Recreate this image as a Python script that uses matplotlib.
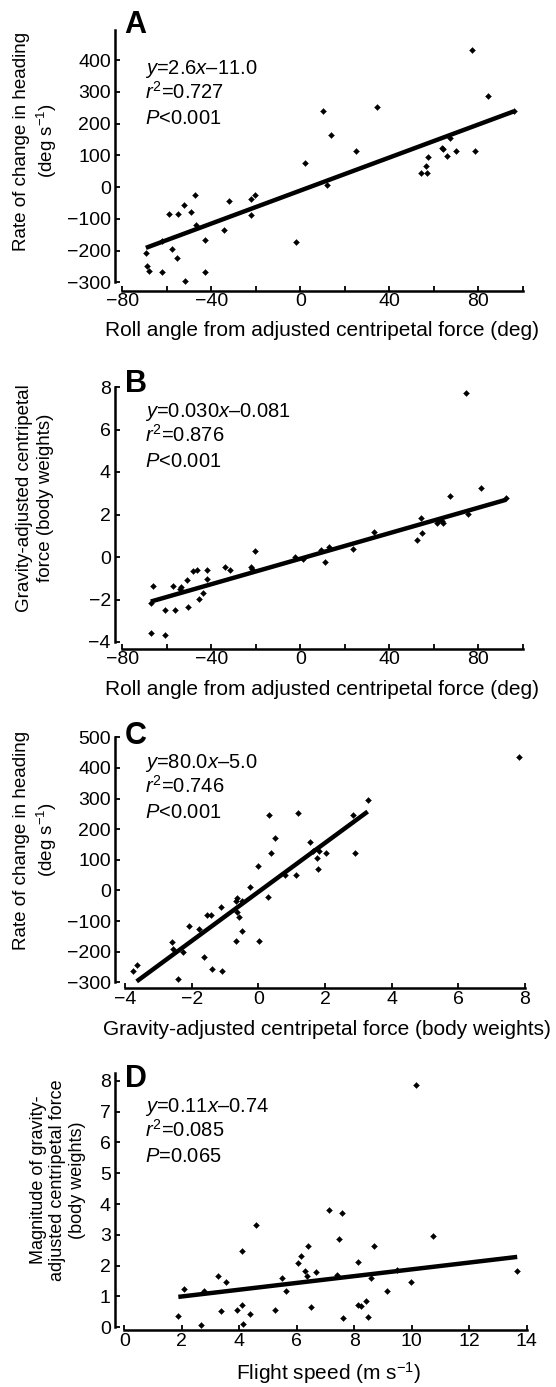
import numpy as np
import matplotlib
matplotlib.use("Agg")
import matplotlib.pyplot as plt

plt.rcParams["font.family"] = ["Liberation Sans", "DejaVu Sans"]
plt.rcParams["mathtext.fontset"] = "custom"
plt.rcParams["mathtext.rm"] = "Liberation Sans"
plt.rcParams["mathtext.it"] = "Liberation Sans:italic"
plt.rcParams["axes.unicode_minus"] = True

# --- data ---
# A: roll angle (deg) vs rate of change in heading (deg/s)
a_roll = [-69.4, -68.8, -68.1, -62.2, -62.2, -58.9, -57.7, -55.5, -55.0, -52.2,
          -51.7, -49.3, -47.5, -46.8, -43.0, -43.0, -34.3, -32.2, -22.3, -22.2,
          -20.4, -1.8, 2.1, 10.3, 12.0, 13.6, 25.0, 34.5, 54.4, 56.5,
          57.1, 57.4, 63.7, 64.2, 65.8, 67.3, 70.0, 77.4, 78.4, 84.6, 96.0]
a_turn = [-207, -248, -263, -170, -268, -85, -195, -222, -85, -57,
          -296, -80, -26, -121, -167, -268, -136, -45, -37, -88,
          -26, -172, 77, 241, 6, 165, 115, 252, 45, 67,
          45, 95, 122, 120, 99, 154, 115, 431, 115, 288, 241]
a_fit = (2.6, -11.0)

# B: roll angle (deg) vs gravity-adjusted centripetal force (body weights)
b_roll = [-67.2, -67.2, -66.1, -60.7, -60.7, -57.4, -56.2, -54.1, -53.5, -51.0,
          -50.5, -48.4, -46.5, -45.7, -43.6, -42.0, -42.0, -33.7, -31.5, -22.2,
          -21.7, -20.2, -2.2, 1.3, 9.3, 11.2, 13.0, 23.8, 33.0, 52.3,
          54.3, 54.7, 61.5, 62.5, 63.7, 64.3, 67.3, 74.5, 75.3, 81.3, 92.5]
b_force = [-2.15, -3.59, -1.36, -2.49, -3.67, -1.36, -2.49, -1.52, -1.43, -1.08,
           -2.34, -0.64, -0.61, -1.99, -1.71, -0.61, -1.05, -0.45, -0.61, -0.45,
           -0.55, 0.30, 0.02, -0.08, 0.33, -0.22, 0.49, 0.39, 1.19, 0.80,
           1.82, 1.15, 1.62, 1.74, 1.69, 1.58, 2.89, 7.73, 2.02, 3.26, 2.79]
b_fit = (0.030, -0.081)

# C: gravity-adjusted centripetal force vs rate of change in heading
c_force = [-3.77, -3.65, -2.60, -2.57, -2.40, -2.25, -2.07, -1.77, -1.63, -1.53,
           -1.42, -1.40, -1.13, -1.10, -0.67, -0.67, -0.65, -0.63, -0.57, -0.50,
           -0.49, -0.25, -0.01, 0.01, 0.28, 0.31, 0.37, 0.50, 0.80, 1.14,
           1.19, 1.55, 1.65, 1.75, 1.80, 1.81, 2.03, 2.83, 2.91, 3.28, 7.83]
c_turn = [-263, -245, -167, -190, -289, -200, -116, -126, -218, -81,
          -80, -257, -53, -263, -36, -164, -25, -72, -86, -33,
          -131, 11, 81, -166, -22, 246, 121, 170, 49, 49,
          254, 157, 128, 106, 71, 128, 121, 246, 121, 294, 436]
c_fit = (80.0, -5.0)
c_fit_range = [-3.65, 3.28]

# D: flight speed (m/s) vs magnitude of gravity-adjusted centripetal force
d_speed = [1.88, 2.08, 2.78, 3.26, 3.37, 3.55, 3.92, 4.09, 4.11, 4.38,
           4.59, 5.25, 5.49, 5.63, 6.05, 6.15, 6.30, 6.34, 6.38, 6.49,
           6.67, 7.11, 7.41, 7.46, 7.57, 7.61, 8.12, 8.14, 8.24, 8.40,
           8.47, 8.57, 8.70, 9.15, 9.50, 9.99, 10.16, 10.73, 13.67, 4.14, 2.67]
d_force = [0.37, 1.25, 1.18, 1.68, 0.54, 1.47, 0.56, 0.73, 2.48, 0.42,
           3.33, 0.56, 1.61, 1.19, 2.07, 2.30, 1.83, 1.66, 2.64, 0.67,
           1.78, 3.81, 1.70, 2.85, 3.72, 0.31, 0.73, 2.12, 0.69, 0.85,
           0.35, 1.59, 2.64, 1.17, 1.87, 1.47, 7.87, 2.97, 1.84, 0.11, 0.07]
d_fit = (0.11, 0.78)

W, H = 556, 1387
fig = plt.figure(figsize=(W / 100, H / 100), dpi=100)


def px(x, y):
    return x / W, 1 - y / H


def make_axes(x0, x1, ytop, ybot, xoff, yoff):
    ax = fig.add_axes([x0 / W, 1 - ybot / H, (x1 - x0) / W, (ybot - ytop) / H])
    for s in ["top", "right"]:
        ax.spines[s].set_visible(False)
    ax.spines["left"].set_position(("outward", xoff * 0.72))
    ax.spines["bottom"].set_position(("outward", yoff * 0.72))
    for s in ["left", "bottom"]:
        ax.spines[s].set_linewidth(1.8)
    ax.tick_params(direction="in", length=3.5, width=1.3, labelsize=14)
    ax.tick_params(axis="x", pad=2)
    ax.tick_params(axis="y", pad=3)
    ax.patch.set_alpha(0)
    return ax


def draw(ax, x, y, fit, xr=None):
    ax.plot(x, y, "D", ms=3.0, color="black", mew=0.3, clip_on=False)
    if xr is None:
        xr = [min(x), max(x)]
    xr = np.array(xr)
    ax.plot(xr, fit[0] * xr + fit[1], color="black", lw=3.2,
            solid_capstyle="butt", clip_on=False)


def stats(lines, x, y0):
    for i, t in enumerate(lines):
        fig.text(*px(x, y0 + 25 * i), t, fontsize=14.5, va="baseline", ha="left")


def xlabel(ax, text, cx, base):
    ax.set_xlabel(text, fontsize=15, va="baseline")
    ax.xaxis.set_label_coords(*px(cx, base), transform=fig.transFigure)


def ylabel(ax, text, cx, cy, size=13.5, ls=1.25):
    ax.set_ylabel(text, fontsize=size, va="center", ha="center",
                  multialignment="center", linespacing=ls)
    ax.yaxis.set_label_coords(*px(cx, cy), transform=fig.transFigure)


deg_s = r"(deg s$^{\mathrm{-1}}$)"

# Panel A
ax = make_axes(122.3, 522.7, 30, 282.3, 7.3, 8.4)
draw(ax, a_roll, a_turn, a_fit)
ax.set_xlim(-80, 100)
ax.set_ylim(-300, 495)
ax.set_xticks(np.arange(-80, 101, 20))
ax.set_xticklabels(["−80", "", "−40", "", "0", "", "40", "", "80", ""])
ax.set_yticks(np.arange(-300, 401, 100))
xlabel(ax, "Roll angle from adjusted centripetal force (deg)", 322, 336)
ylabel(ax, "Rate of change in heading\n" + deg_s, 36, 141)
fig.text(*px(124, 33), "A", fontsize=22, fontweight="bold", va="baseline")
stats([r"$y$=2.6$x$–11.0", r"$r^{\mathrm{2}}$=0.727", r"$P$<0.001"], 145, 74)

# Panel B
ax = make_axes(122.3, 522.7, 387, 642, 7.3, 6.5)
draw(ax, b_roll, b_force, b_fit)
ax.set_xlim(-80, 100)
ax.set_ylim(-4, 8)
ax.set_xticks(np.arange(-80, 101, 20))
ax.set_xticklabels(["−80", "", "−40", "", "0", "", "40", "", "80", ""])
ax.set_yticks(np.arange(-4, 9, 2))
xlabel(ax, "Roll angle from adjusted centripetal force (deg)", 322, 695)
ylabel(ax, "Gravity-adjusted centripetal\nforce (body weights)", 35, 498)
fig.text(*px(125, 391.7), "B", fontsize=22, fontweight="bold", va="baseline")
stats([r"$y$=0.030$x$–0.081", r"$r^{\mathrm{2}}$=0.876", r"$P$<0.001"], 145, 417)

# Panel C
ax = make_axes(125, 525, 737.3, 982.3, 10, 6)
draw(ax, c_force, c_turn, c_fit, c_fit_range)
ax.set_xlim(-4, 8)
ax.set_ylim(-300, 500)
ax.set_xticks(np.arange(-4, 9, 2))
ax.set_yticks(np.arange(-300, 501, 100))
xlabel(ax, "Gravity-adjusted centripetal force (body weights)", 327, 1035)
ylabel(ax, "Rate of change in heading\n" + deg_s, 36, 840)
fig.text(*px(125, 744), "C", fontsize=22, fontweight="bold", va="baseline")
stats([r"$y$=80.0$x$–5.0", r"$r^{\mathrm{2}}$=0.746", r"$P$<0.001"], 145, 768)

# Panel D
ax = make_axes(124.3, 526.7, 1073, 1327.3, 9.3, 3)
draw(ax, d_speed, d_force, d_fit)
ax.set_xlim(0, 14)
ax.set_ylim(0, 8.25)
ax.set_xticks(np.arange(0, 15, 2))
ax.set_yticks(np.arange(0, 9, 1))
xlabel(ax, r"Flight speed (m s$^{\mathrm{-1}}$)", 329, 1380)
ylabel(ax, "Magnitude of gravity-\nadjusted centripetal force\n(body weights)",
       58, 1180, size=13, ls=1.2)
fig.text(*px(125, 1086.7), "D", fontsize=22, fontweight="bold", va="baseline")
stats([r"$y$=0.11$x$–0.74", r"$r^{\mathrm{2}}$=0.085", r"$P$=0.065"], 145, 1112)

fig.savefig("out.png", dpi=100)
